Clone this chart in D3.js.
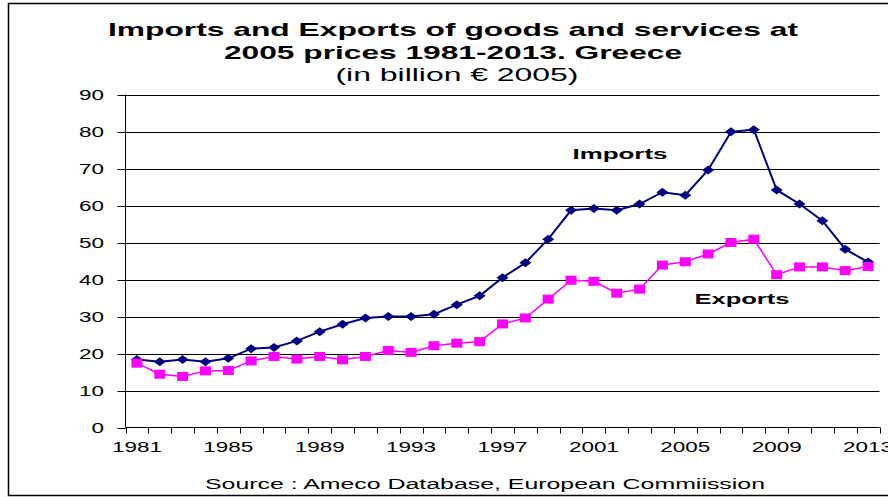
<!DOCTYPE html>
<html>
<head>
<meta charset="utf-8">
<script src="https://cdn.jsdelivr.net/npm/d3@7"></script>
<style>
  body { margin: 0; background: #fff; }
  text { font-family: "Liberation Sans", Arial, sans-serif; fill: #000; }
</style>
</head>
<body>
<div id="chart"></div>
<script>
// data
var years = [1981, 1982, 1983, 1984, 1985, 1986, 1987, 1988, 1989, 1990,
    1991, 1992, 1993, 1994, 1995, 1996, 1997, 1998, 1999, 2000,
    2001, 2002, 2003, 2004, 2005, 2006, 2007, 2008, 2009, 2010,
    2011, 2012, 2013];
var imports = [18.4, 17.8, 18.4, 17.8, 18.7, 21.3, 21.6, 23.4, 25.9, 27.9,
    29.6, 30.0, 30.0, 30.6, 33.2, 35.6, 40.5, 44.5, 50.9, 58.7,
    59.2, 58.7, 60.4, 63.6, 62.8, 69.6, 79.9, 80.5, 64.2, 60.4,
    55.9, 48.2, 44.7];
var exports = [17.4, 14.4, 13.8, 15.3, 15.4, 18.0, 19.2, 18.5, 19.2, 18.3,
    19.2, 20.8, 20.3, 22.1, 22.8, 23.2, 28.0, 29.6, 34.7, 39.8,
    39.5, 36.3, 37.4, 43.9, 44.8, 46.9, 50.0, 50.9, 41.3, 43.4,
    43.4, 42.4, 43.5];
var yTicks = [0, 10, 20, 30, 40, 50, 60, 70, 80, 90];
var xLabels = [1981, 1985, 1989, 1993, 1997, 2001, 2005, 2009, 2013];
var titleLines = ['Imports and Exports of goods and services at',
    '2005 prices 1981-2013. Greece',
    '(in billion \u20AC 2005)'];

function buildChart(containerId) {
    var width = 888;
    var height = 497;
    var plotLeft = 125.5;
    var plotRight = 879.5;
    var plotTop = 94.5;
    var plotBottom = 427.5;

    var svg = d3.select(containerId)
        .append('svg')
        .attr('width', width)
        .attr('height', height);

    // outer frame (runs off the right edge)
    svg.append('rect')
        .attr('x', 8.5)
        .attr('y', 3.5)
        .attr('width', 900)
        .attr('height', 492)
        .style('fill', 'none')
        .style('stroke', '#000')
        .style('stroke-width', 1.5);

    var x = d3.scaleBand()
        .domain(years)
        .range([plotLeft, plotRight])
        .padding(0);

    var y = d3.scaleLinear()
        .domain([0, 90])
        .range([plotBottom, plotTop]);

    // gridlines
    svg.append('g')
        .selectAll('line')
        .data(yTicks.filter(d => d > 0))
        .enter()
        .append('line')
        .attr('x1', plotLeft)
        .attr('x2', plotRight)
        .attr('y1', d => Math.round(y(d)) + 0.5)
        .attr('y2', d => Math.round(y(d)) + 0.5)
        .style('stroke', '#000')
        .style('stroke-width', 1);

    // y axis
    var yAxis = svg.append('g');
    yAxis.append('line')
        .attr('x1', plotLeft).attr('x2', plotLeft)
        .attr('y1', plotTop).attr('y2', plotBottom)
        .style('stroke', '#000');
    yAxis.selectAll('.tick')
        .data(yTicks)
        .enter()
        .append('line')
        .attr('x1', plotLeft - 8)
        .attr('x2', plotLeft)
        .attr('y1', d => Math.round(y(d)) + 0.5)
        .attr('y2', d => Math.round(y(d)) + 0.5)
        .style('stroke', '#000');
    yAxis.selectAll('text')
        .data(yTicks)
        .enter()
        .append('text')
        .attr('x', 104)
        .attr('y', d => y(d) + 5)
        .attr('text-anchor', 'end')
        .attr('textLength', d => String(d).length * 12.5)
        .attr('lengthAdjust', 'spacingAndGlyphs')
        .style('font-size', '14px')
        .text(d => d);

    // x axis
    var xAxis = svg.append('g');
    xAxis.append('line')
        .attr('x1', plotLeft).attr('x2', plotRight)
        .attr('y1', plotBottom).attr('y2', plotBottom)
        .style('stroke', '#000');
    var bounds = years.map(d => x(d)).concat([plotRight]);
    xAxis.selectAll('.tick')
        .data(bounds)
        .enter()
        .append('line')
        .attr('x1', d => Math.round(d) + 0.5)
        .attr('x2', d => Math.round(d) + 0.5)
        .attr('y1', plotBottom)
        .attr('y2', plotBottom + 6)
        .style('stroke', '#000');
    xAxis.selectAll('text')
        .data(xLabels)
        .enter()
        .append('text')
        .attr('x', d => x(d) + x.bandwidth() / 2)
        .attr('y', 452)
        .attr('text-anchor', 'middle')
        .attr('textLength', 50)
        .attr('lengthAdjust', 'spacingAndGlyphs')
        .style('font-size', '14px')
        .text(d => d);

    // series
    var cx = (d, i) => x(years[i]) + x.bandwidth() / 2;
    var line = d3.line()
        .x(cx)
        .y(d => y(d));

    svg.append('path')
        .datum(imports)
        .attr('d', line)
        .style('fill', 'none')
        .style('stroke', '#000080')
        .style('stroke-width', 2);

    svg.append('path')
        .datum(exports)
        .attr('d', line)
        .style('fill', 'none')
        .style('stroke', '#FF00FF')
        .style('stroke-width', 1.5);

    // diamonds, a bit wider than tall like the original
    var diamond = 'M-6,0L0,-4.5L6,0L0,4.5Z';
    svg.append('g')
        .selectAll('path')
        .data(imports)
        .enter()
        .append('path')
        .attr('d', diamond)
        .attr('transform', (d, i) => 'translate(' + cx(d, i) + ',' + y(d) + ')')
        .style('fill', '#000080');

    svg.append('g')
        .selectAll('rect')
        .data(exports)
        .enter()
        .append('rect')
        .attr('x', (d, i) => cx(d, i) - 5.5)
        .attr('y', d => y(d) - 4.5)
        .attr('width', 11)
        .attr('height', 9)
        .style('fill', '#FF00FF');

    // title
    var titleSpecs = [
        { y: 36, len: 690, weight: 'bold' },
        { y: 59, len: 458, weight: 'bold' },
        { y: 81, len: 243, weight: 'normal' }
    ];
    svg.append('g')
        .selectAll('text')
        .data(titleLines)
        .enter()
        .append('text')
        .attr('x', (d, i) => i < 2 ? 453 : 457)
        .attr('y', (d, i) => titleSpecs[i].y)
        .attr('text-anchor', 'middle')
        .attr('textLength', (d, i) => titleSpecs[i].len)
        .attr('lengthAdjust', 'spacingAndGlyphs')
        .style('font-size', '18.5px')
        .style('font-weight', (d, i) => titleSpecs[i].weight)
        .text(d => d);

    // series labels
    svg.append('text')
        .attr('x', 620).attr('y', 159)
        .attr('text-anchor', 'middle')
        .attr('textLength', 95)
        .attr('lengthAdjust', 'spacingAndGlyphs')
        .style('font-size', '15px')
        .style('font-weight', 'bold')
        .text('Imports');

    svg.append('text')
        .attr('x', 742).attr('y', 304)
        .attr('text-anchor', 'middle')
        .attr('textLength', 95)
        .attr('lengthAdjust', 'spacingAndGlyphs')
        .style('font-size', '15px')
        .style('font-weight', 'bold')
        .text('Exports');

    // source
    svg.append('text')
        .attr('x', 485).attr('y', 489)
        .attr('text-anchor', 'middle')
        .attr('textLength', 560)
        .attr('lengthAdjust', 'spacingAndGlyphs')
        .style('font-size', '14px')
        .text('Source : Ameco Database, European Commiission');
}

buildChart('#chart');
</script>
</body>
</html>
